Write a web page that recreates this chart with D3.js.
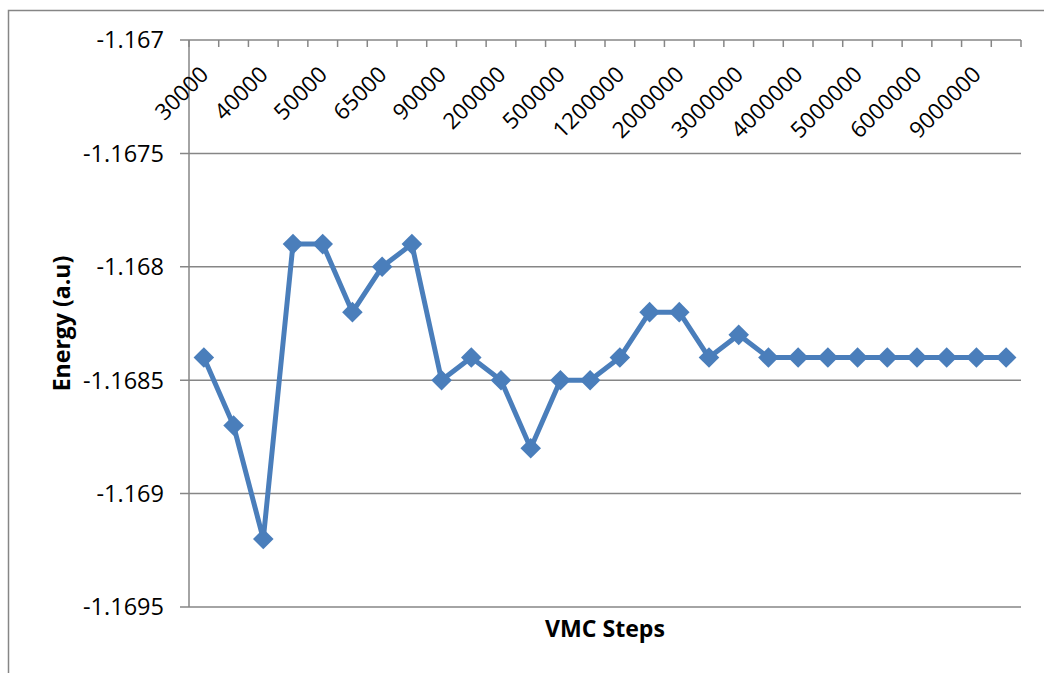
<!DOCTYPE html>
<html>
<head>
<meta charset="utf-8">
<script src="https://cdn.jsdelivr.net/npm/d3@7"></script>
<style>
  html, body { margin: 0; padding: 0; background: #fff; }
  svg { display: block; }
  text { font-family: "Open Sans", sans-serif; }
</style>
</head>
<body>
<svg id="chart" width="1044" height="673"></svg>
<script>
const categories = ["30000","35000","40000","45000","50000","60000","65000","80000","90000","100000",
  "200000","300000","500000","1000000","1200000","1500000","2000000","2500000","3000000","3500000",
  "4000000","4500000","5000000","5500000","6000000","8000000","9000000","10000000"];
const energy = [-1.1684,-1.1687,-1.1692,-1.1679,-1.1679,-1.1682,-1.1680,-1.1679,-1.1685,-1.1684,
  -1.1685,-1.1688,-1.1685,-1.1685,-1.1684,-1.1682,-1.1682,-1.1684,-1.1683,-1.1684,
  -1.1684,-1.1684,-1.1684,-1.1684,-1.1684,-1.1684,-1.1684,-1.1684];
const yTicks = [-1.167,-1.1675,-1.168,-1.1685,-1.169,-1.1695];
const yTickLabels = ["-1.167","-1.1675","-1.168","-1.1685","-1.169","-1.1695"];

function draw() {
  const svg = d3.select("#chart");
  svg.selectAll("*").remove();
  const L = 189, R = 1021, T = 40, B = 607;
  const grey = "#868686", blue = "#4a7ebb";

  function fitSize(sample, target, weight) {
    const t = svg.append("text").attr("font-size", 100).attr("font-weight", weight || "normal").text(sample);
    const w = t.node().getComputedTextLength();
    t.remove();
    return 100 * target / w;
  }
  const tickFs = fitSize("-1.1675", 81);
  const catFs = fitSize("9000000", 90);
  const titleFs = fitSize("VMC Steps", 120, "bold");

  // outer chart border
  svg.append("rect").attr("x", 8.5).attr("y", 10.5).attr("width", 1100).attr("height", 700)
    .attr("fill", "none").attr("stroke", grey).attr("stroke-width", 1.5);

  const x = d3.scaleBand().domain(categories).range([L, R]).paddingInner(0).paddingOuter(0);
  const y = d3.scaleLinear().domain([-1.1695, -1.167]).range([B, T]);

  // gridlines
  svg.append("g").selectAll("line").data(yTicks).join("line")
    .attr("x1", L - 9).attr("x2", R).attr("y1", d => y(d)).attr("y2", d => y(d))
    .attr("stroke", grey).attr("stroke-width", 1.5);

  // y axis line
  svg.append("line").attr("x1", L).attr("x2", L).attr("y1", T).attr("y2", B)
    .attr("stroke", grey).attr("stroke-width", 1.5);

  // y labels
  svg.append("g").selectAll("text").data(yTicks).join("text")
    .attr("x", 164).attr("y", d => y(d)).attr("dy", "0.36em")
    .attr("text-anchor", "end").attr("font-size", tickFs).attr("fill", "#000")
    .text((d, i) => yTickLabels[i]);

  // top category axis
  const xAxis = d3.axisTop(x).tickSize(0).tickFormat(() => "");
  svg.append("g").attr("transform", `translate(0,${T})`).call(xAxis).call(g => g.select(".domain").remove());
  const boundaries = categories.map(c => x(c)).concat([x(categories[categories.length - 1]) + x.bandwidth()]);
  svg.append("g").selectAll("line").data(boundaries).join("line")
    .attr("x1", d => d).attr("x2", d => d).attr("y1", T).attr("y2", T + 7)
    .attr("stroke", grey).attr("stroke-width", 1.5);

  // category labels (every other)
  svg.append("g").selectAll("text").data(categories.filter((c, i) => i % 2 === 0)).join("text")
    .attr("transform", d => `translate(${x(d) + x.bandwidth() / 2 + 6},${T + 36}) rotate(-45)`)
    .attr("text-anchor", "end").attr("font-size", catFs).attr("fill", "#000")
    .text(d => d);

  // line
  const line = d3.line().x((d, i) => x(categories[i]) + x.bandwidth() / 2).y(d => y(d));
  svg.append("path").datum(energy).attr("d", line)
    .attr("fill", "none").attr("stroke", blue).attr("stroke-width", 5).attr("stroke-linejoin", "round");

  // diamond markers
  const sym = d3.symbol().type(d3.symbolDiamond2).size(270);
  svg.append("g").selectAll("path").data(energy).join("path")
    .attr("transform", (d, i) => `translate(${x(categories[i]) + x.bandwidth() / 2},${y(d)})`)
    .attr("d", sym).attr("fill", blue);

  // axis titles
  svg.append("text").attr("transform", `translate(70,${(T + B) / 2}) rotate(-90)`)
    .attr("text-anchor", "middle").attr("font-size", titleFs).attr("font-weight", "bold").text("Energy (a.u)");
  svg.append("text").attr("x", 605).attr("y", 637)
    .attr("text-anchor", "middle").attr("font-size", titleFs).attr("font-weight", "bold").text("VMC Steps");
}

draw();
if (document.fonts && document.fonts.load) {
  Promise.all([
    document.fonts.load('100px "Open Sans"'),
    document.fonts.load('bold 100px "Open Sans"')
  ]).then(draw).catch(() => {});
}
</script>
</body>
</html>
